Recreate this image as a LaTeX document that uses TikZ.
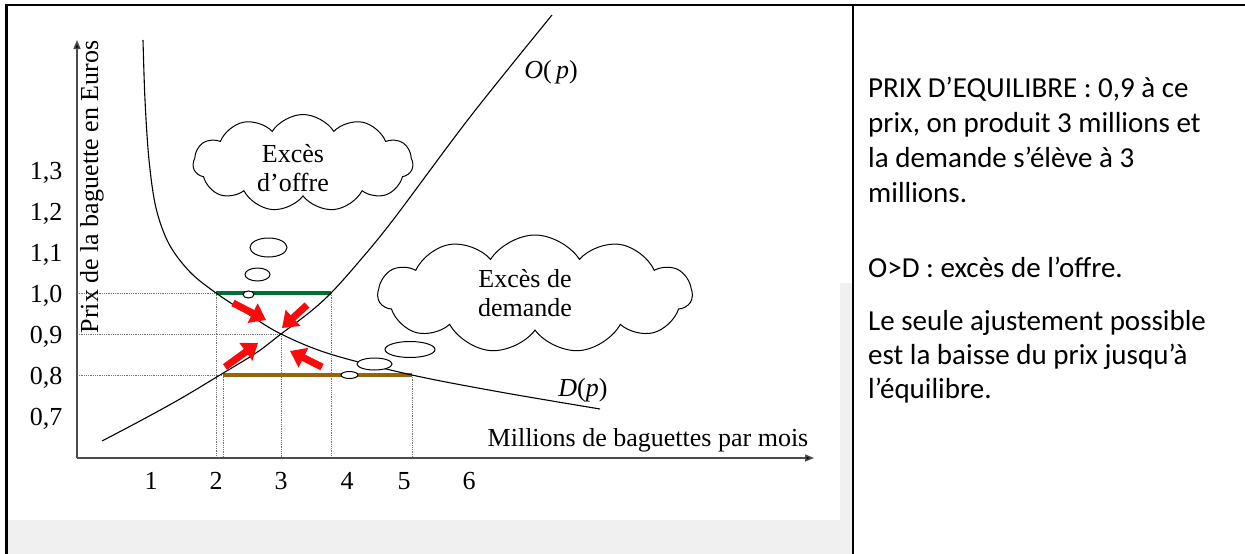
\documentclass[tikz,border=0pt]{standalone}
\usepackage{fontspec}
\setmainfont{Liberation Serif}
\newfontfamily\rightfont{Carlito}
\usetikzlibrary{arrows.meta,shapes.symbols}
\definecolor{bargreen}{RGB}{0,110,55}
\definecolor{barbrown}{RGB}{150,100,10}
\definecolor{arrred}{RGB}{250,10,10}
\definecolor{bandgray}{RGB}{240,240,240}
\begin{document}
\begin{tikzpicture}[x=1pt,y=-1pt,
  curve/.style={line width=1.1pt, black},
  guide/.style={densely dotted, line width=0.8pt, black!55},
  axisline/.style={line width=1.5pt, black!70, -{Triangle[width=7pt,length=9pt,fill=black]}},
  redarrow/.style={arrred, line width=7pt, -{Triangle[width=21pt,length=15pt]}},
  bubble/.style={draw, line width=1pt, fill=white},
  cloudbox/.style={cloud, draw, line width=1pt, cloud puffs=11, cloud puff arc=115, cloud ignores aspect, inner sep=0pt},
  lbl/.style={font=\fontsize{26}{29}\selectfont, inner sep=0pt},
  rt/.style={font=\rightfont\fontsize{29}{35}\selectfont, inner sep=0pt, anchor=base west}
]
\useasboundingbox (0,0) rectangle (1245,554);
\fill[white] (0,0) rectangle (1245,554);
\fill[bandgray] (8,520) rectangle (852,554);
\fill[bandgray] (840,283) rectangle (852,520);
% borders
\draw[line width=2.5pt] (6.5,554) -- (6.5,5) -- (1245,5);
\draw[line width=2.5pt] (853,5) -- (853,554);

% guides
\draw[guide] (77,293) -- (331,293);
\draw[guide] (77,334) -- (281,334);
\draw[guide] (77,375) -- (223,375);
\draw[guide] (216,293) -- (216,458);
\draw[guide] (223,375) -- (223,458);
\draw[guide] (281,334) -- (281,458);
\draw[guide] (331,293) -- (331,458);
\draw[guide] (412,375) -- (412,458);

% bars
\draw[bargreen, line width=4pt] (216,293) -- (331,293);
\draw[barbrown, line width=4pt] (223,375) -- (412,375);

% axes
\coordinate (O) at (77,458);
\coordinate (ytop) at (77,40);
\coordinate (xend) at (814,458);
\draw[axisline] (O) -- (ytop);
\draw[axisline] (O) -- (xend);

% demand curve
\draw[curve] plot[smooth, tension=0.55] coordinates {(143,40) (145,100) (149,160) (156,208) (169,244) (190,272) (216,293) (248,314) (281,334) (330,354) (412,375) (500,392) (600,409)};
% supply curve
\draw[curve] plot[smooth, tension=0.55] coordinates {(102,441) (140,421) (180,399) (220,375) (256,353) (281,334) (310,312) (331,293) (357,264) (393,220) (470,117) (552,15)};

% thought bubbles
\draw[bubble] (268.5,247.5) ellipse [x radius=18.5, y radius=9.5];
\draw[bubble] (257.5,274.5) ellipse [x radius=12.5, y radius=6.5];
\draw[bubble] (248.5,294.5) ellipse [x radius=5.5, y radius=3.5];
\draw[bubble] (410,349.5) ellipse [x radius=25, y radius=8];
\draw[bubble] (374.5,364) ellipse [x radius=17.5, y radius=6];
\draw[bubble] (349.5,375) ellipse [x radius=8.5, y radius=3.5];

% clouds
\node[cloudbox, minimum width=220pt, minimum height=97pt] (cloudA) at (303,163) {};
\node[lbl, align=center] (txtA) at (293,168) {Excès\\d’offre};
\node[cloudbox, minimum width=314pt, minimum height=118pt] (cloudB) at (535,294) {};
\node[lbl, align=center] (txtB) at (525,293) {Excès de\\demande};

% red arrows
\coordinate (a1s) at (233,303); \coordinate (a1e) at (266,320);
\coordinate (a2s) at (307,305); \coordinate (a2e) at (282,328);
\coordinate (a3s) at (225,367); \coordinate (a3e) at (258,343);
\coordinate (a4s) at (322,367); \coordinate (a4e) at (290,351);
\draw[redarrow] (a1s) -- (a1e);
\draw[redarrow] (a2s) -- (a2e);
\draw[redarrow] (a3s) -- (a3e);
\draw[redarrow] (a4s) -- (a4e);

% curve labels
\node[lbl] (Op) at (551,72) {\textit{O}(\,\textit{p})};
\node[lbl] (Dp) at (583,390) {\textit{D}(\textit{p})};

% axis titles
\node[lbl, rotate=90] (ylab) at (92,187) {Prix de la baguette en Euros};
\node[lbl] (xlab) at (648,440) {Millions de baguettes par mois};

% y ticks
\node[lbl, anchor=base] (y13) at (46,179) {1,3};
\node[lbl, anchor=base] (y12) at (46,220) {1,2};
\node[lbl, anchor=base] (y11) at (46,261) {1,1};
\node[lbl, anchor=base] (y10) at (46,302) {1,0};
\node[lbl, anchor=base] (y09) at (46,343) {0,9};
\node[lbl, anchor=base] (y08) at (46,384) {0,8};
\node[lbl, anchor=base] (y07) at (46,425) {0,7};
% x ticks
\node[lbl, anchor=base] (x1) at (151,489) {1};
\node[lbl, anchor=base] (x2) at (216,489) {2};
\node[lbl, anchor=base] (x3) at (281,489) {3};
\node[lbl, anchor=base] (x4) at (347,489) {4};
\node[lbl, anchor=base] (x5) at (404,489) {5};
\node[lbl, anchor=base] (x6) at (469,489) {6};

% right text
\node[rt] (r1) at (868,97) {PRIX D’EQUILIBRE : 0,9 à ce};
\node[rt] (r2) at (868,132) {prix, on produit 3 millions et};
\node[rt] (r3) at (868,167) {la demande s’élève à 3};
\node[rt] (r4) at (868,202) {millions.};
\node[rt] (r5) at (868,277) {O>D : excès de l’offre.};
\node[rt] (r6) at (868,330) {Le seule ajustement possible};
\node[rt] (r7) at (868,364) {est la baisse du prix jusqu’à};
\node[rt] (r8) at (868,398) {l’équilibre.};
\end{tikzpicture}
\end{document}
